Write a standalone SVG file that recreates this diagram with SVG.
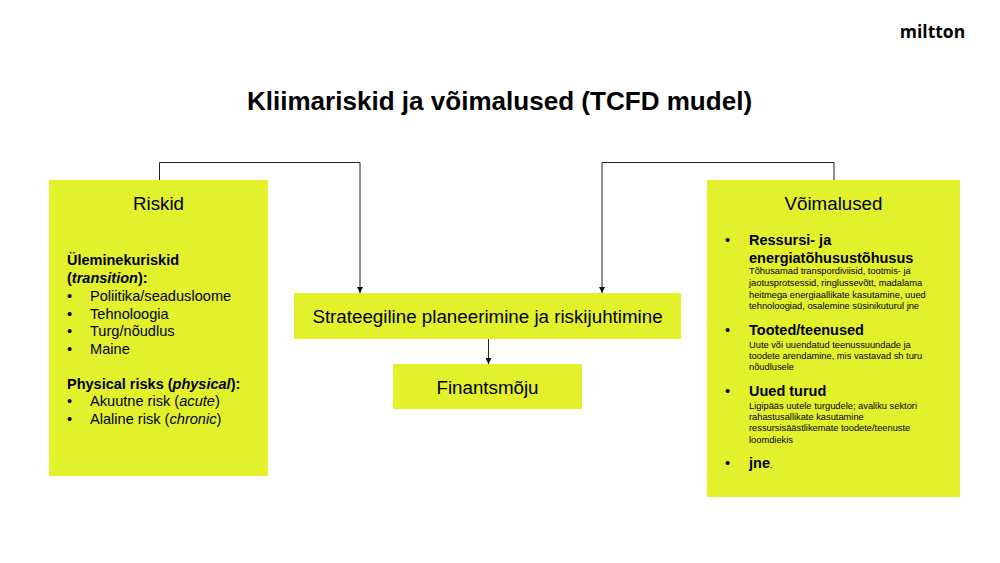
<svg xmlns="http://www.w3.org/2000/svg" width="1000" height="563" viewBox="0 0 1000 563">
<style>
text{font-family:"Liberation Sans",Arial,sans-serif;fill:#000}
.box{fill:#e3f02c}
.sep{stroke:#e8f340;stroke-width:1;fill:none}
.head{font-size:18.75px;text-anchor:middle}
.body{font-size:14.6px}
.bold{font-weight:700}
.sub{font-size:14.5px;font-weight:700}
.small{font-size:9.3px}
.conn{fill:none;stroke:#222;stroke-width:1}
.i{font-style:italic}
</style>
<defs>
<marker id="arrow" markerUnits="userSpaceOnUse" markerWidth="7" markerHeight="6" refX="6" refY="3" orient="auto"><path d="M0 0L6 3L0 6Z" fill="#111"/></marker>
</defs>
<rect width="1000" height="563" fill="#fff"/>
<text id="logo" x="932.500" y="37.500" text-anchor="middle" style="font-family:'Open Sans','Liberation Sans',sans-serif;font-weight:700;font-size:17.500px">miltton</text>
<text id="title" x="499.500" y="109.500" text-anchor="middle" class="bold" style="font-size:26.050px">Kliimariskid ja võimalused (TCFD mudel)</text>
<g id="connectors">
<path class="conn" d="M159.500 180V162.500H360V293" marker-end="url(#arrow)"/>
<path class="conn" d="M834 180V162.500H602V293" marker-end="url(#arrow)"/>
<path class="conn" d="M488.500 339V364" marker-end="url(#arrow)"/>
</g>
<g id="riskid">
<rect class="box" x="49" y="180" width="219" height="296"/>
<path class="sep" d="M49 225.500H268"/>
<text class="head" x="158.500" y="209.500">Riskid</text>
<text class="sub" x="67" y="265">Üleminekuriskid</text>
<text class="sub" x="67" y="283">(<tspan class="i">transition</tspan>):</text>
<g class="body">
<text x="67" y="301">•</text><text x="90" y="301">Poliitika/seadusloome</text>
<text x="67" y="319">•</text><text x="90" y="319">Tehnoloogia</text>
<text x="67" y="336">•</text><text x="90" y="336">Turg/nõudlus</text>
<text x="67" y="354">•</text><text x="90" y="354">Maine</text>
</g>
<text class="sub" x="67" y="389">Physical risks (<tspan class="i">physical</tspan>):</text>
<g class="body">
<text x="67" y="406">•</text><text x="90" y="406">Akuutne risk (<tspan class="i">acute</tspan>)</text>
<text x="67" y="424">•</text><text x="90" y="424">Alaline risk (<tspan class="i">chronic</tspan>)</text>
</g>
</g>
<g id="voimalused">
<rect class="box" x="707" y="180" width="253" height="317"/>
<path class="sep" d="M707 225.500H960"/>
<text class="head" x="833.500" y="209.500">Võimalused</text>
<text class="body" x="725" y="245">•</text>
<text class="sub" x="749" y="245">Ressursi- ja</text>
<text class="sub" x="749" y="263">energiatõhusustõhusus</text>
<g class="small">
<text x="749" y="274">Tõhusamad transpordiviisid, tootmis- ja</text>
<text x="749" y="285.500">jaotusprotsessid, ringlussevõtt, madalama</text>
<text x="749" y="297.500">heitmega energiaallikate kasutamine, uued</text>
<text x="749" y="308.500">tehnoloogiad, osalemine süsinikuturul jne</text>
</g>
<text class="body" x="725" y="335">•</text>
<text class="sub" x="749" y="335">Tooted/teenused</text>
<g class="small">
<text x="749" y="348">Uute või uuendatud teenussuundade ja</text>
<text x="749" y="359">toodete arendamine, mis vastavad sh turu</text>
<text x="749" y="370">nõudlusele</text>
</g>
<text class="body" x="725" y="396">•</text>
<text class="sub" x="749" y="396">Uued turud</text>
<g class="small">
<text x="749" y="408.500">Ligipääs uutele turgudele; avaliku sektori</text>
<text x="749" y="420">rahastusallikate kasutamine</text>
<text x="749" y="431">ressursisäästlikemate toodete/teenuste</text>
<text x="749" y="442.500">loomdiekis</text>
</g>
<text class="body" x="725" y="468">•</text>
<text class="sub" x="749" y="468">jne<tspan class="small" font-weight="400">.</tspan></text>
</g>
<g id="strateegiline">
<rect class="box" x="294" y="293" width="387" height="46"/>
<text class="head" x="487.500" y="322.500">Strateegiline planeerimine ja riskijuhtimine</text>
</g>
<g id="finantsmoju">
<rect class="box" x="393" y="364" width="189" height="45"/>
<text class="head" x="487.500" y="394">Finantsmõju</text>
</g>
</svg>
